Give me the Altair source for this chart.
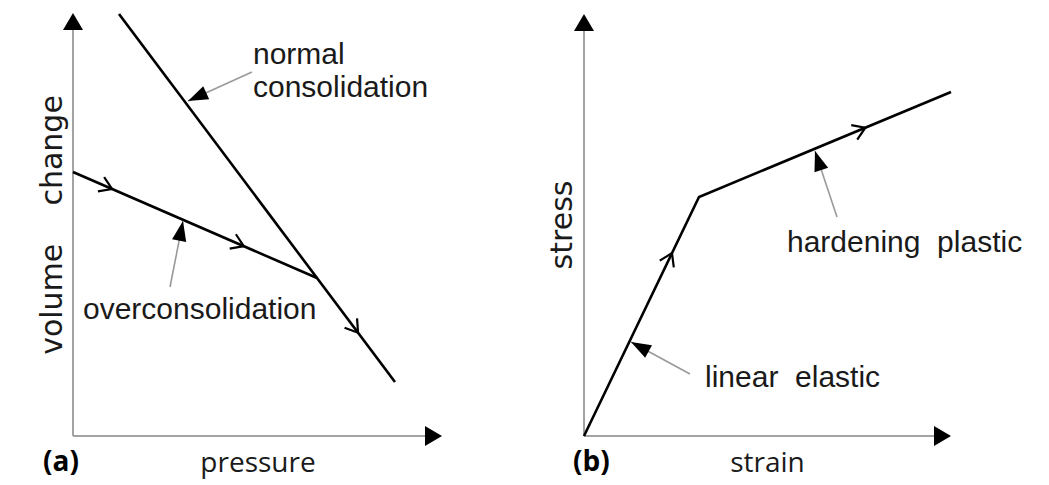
import math
import altair as alt
import pandas as pd

# ---------------- data (schematic units) ----------------
# Panel (a): volume change vs pressure
A_X_DOMAIN = [-65, 457]
A_Y_DOMAIN = [-45, 424]
A_AXIS_TIP_X = 369
A_AXIS_TIP_Y = 423
ncl_x = [46, 322]          # normal consolidation line
ncl_y = [422, 54]
ocl_x = [0, 244]           # overconsolidation line
ocl_y = [264, 158]
a_chevrons = [("ocl", 0.16), ("ocl", 0.70), ("ncl", 0.866)]
a_pointers = [  # leader start (x, y) -> tip (x, y)
    (179, 364, 115, 335),
    (97, 149, 110, 215),
]
a_labels = ["normal", "consolidation", "overconsolidation"]
a_label_x = [180, 180, 10]
a_label_y = [372, 339, 117]

# Panel (b): stress vs strain
B_X_DOMAIN = [-54, 457]
B_Y_DOMAIN = [-45, 424]
B_AXIS_TIP_X = 367
B_AXIS_TIP_Y = 422
curve_x = [0, 115, 367]
curve_y = [0, 239, 344]
b_chevrons = [(0, 0.765), (1, 0.66)]
b_pointers = [
    (106, 62, 47, 94),
    (253, 219, 231, 285),
]
b_labels = ["linear\u00a0\u00a0elastic", "hardening\u00a0\u00a0plastic"]
b_label_x = [121, 203]
b_label_y = [49, 184]

A_YTITLE = "volume\u00a0\u00a0\u00a0\u00a0change"
B_YTITLE = "stress"
A_XTITLE = "pressure"
B_XTITLE = "strain"
A_TAG = "(a)"
B_TAG = "(b)"

W_A, W_B, H = 522, 511, 469

LABEL_FONT = "Liberation Sans, Arial, sans-serif"
SHAPE_TRI = "M0,0L-1.7,-1L-1.7,1Z"
SHAPE_PTR = "M0,0L-2,-0.72L-2,0.72Z"
SHAPE_CHEV = "M-1.2,-0.78L0,0L-1.2,0.78"


def screen_angle(dx, dy):
    return math.degrees(math.atan2(-dy, dx)) % 360


def enc(xdom, ydom):
    return dict(
        x=alt.X("x:Q", scale=alt.Scale(domain=xdom, nice=False, zero=False), axis=None),
        y=alt.Y("y:Q", scale=alt.Scale(domain=ydom, nice=False, zero=False), axis=None),
    )


def panel(xdom, ydom, width, tip_x, tip_y, lines_df, chev_df, pointers,
          labels_df, ytitle, ytitle_x, xtitle, xtitle_x, tag, tag_x):
    e = enc(xdom, ydom)
    axes_df = pd.DataFrame({"x": [0, 0], "y": [0, 0],
                            "x2": [tip_x - 12, 0], "y2": [0, tip_y - 12]})
    axis_rules = alt.Chart(axes_df).mark_rule(color="#a3a3a3", strokeWidth=2).encode(
        **e, x2="x2:Q", y2="y2:Q")
    heads_df = pd.DataFrame({"x": [tip_x, 0], "y": [0, tip_y], "angle": [0, 270]})
    heads = alt.Chart(heads_df).mark_point(
        shape=SHAPE_TRI, filled=True, size=400, color="black", opacity=1
    ).encode(**e, angle=alt.Angle("angle:Q", scale=None))

    lines = alt.Chart(lines_df).mark_line(color="black", strokeWidth=2.6).encode(
        **e, detail="series:N", order="order:Q")
    chev = alt.Chart(chev_df).mark_point(
        shape=SHAPE_CHEV, filled=False, size=400, color="black", strokeWidth=2.2, opacity=1
    ).encode(**e, angle=alt.Angle("angle:Q", scale=None))

    p_df = pd.DataFrame({
        "x": [p[0] for p in pointers], "y": [p[1] for p in pointers],
        "x2": [p[2] for p in pointers], "y2": [p[3] for p in pointers],
    })
    leaders = alt.Chart(p_df).mark_rule(color="#9a9a9a", strokeWidth=1.6).encode(
        **e, x2="x2:Q", y2="y2:Q")
    ptip_df = pd.DataFrame({
        "x": [p[2] for p in pointers], "y": [p[3] for p in pointers],
        "angle": [screen_angle(p[2] - p[0], p[3] - p[1]) for p in pointers],
    })
    ptips = alt.Chart(ptip_df).mark_point(
        shape=SHAPE_PTR, filled=True, size=400, color="black", opacity=1
    ).encode(**e, angle=alt.Angle("angle:Q", scale=None))

    labels = alt.Chart(labels_df).mark_text(
        font=LABEL_FONT, fontSize=30, align="left", baseline="alphabetic", color="#1a1a1a"
    ).encode(**e, text="text:N")

    yt = alt.Chart(pd.DataFrame({"x": [ytitle_x], "y": [211], "text": [ytitle]})).mark_text(
        font="DejaVu Sans", fontSize=30, angle=270, align="center",
        baseline="alphabetic", color="#1a1a1a"
    ).encode(**e, text="text:N")
    xt = alt.Chart(pd.DataFrame({"x": [xtitle_x], "y": [-36], "text": [xtitle]})).mark_text(
        font="Open Sans", fontSize=28, align="center", baseline="alphabetic", color="#1a1a1a"
    ).encode(**e, text="text:N")
    tg = alt.Chart(pd.DataFrame({"x": [tag_x], "y": [-35], "text": [tag]})).mark_text(
        font="Open Sans", fontSize=28, fontWeight="bold", align="left",
        baseline="alphabetic", color="black"
    ).encode(**e, text="text:N")

    return alt.layer(axis_rules, heads, lines, chev, leaders, ptips,
                     labels, yt, xt, tg).properties(width=width, height=H)


def along(xs, ys, i, f):
    x = xs[i] + f * (xs[i + 1] - xs[i])
    y = ys[i] + f * (ys[i + 1] - ys[i])
    return x, y, screen_angle(xs[i + 1] - xs[i], ys[i + 1] - ys[i])


# panel a frames
a_lines = pd.DataFrame({
    "x": ncl_x + ocl_x, "y": ncl_y + ocl_y,
    "series": ["ncl", "ncl", "ocl", "ocl"], "order": [0, 1, 0, 1],
})
rows = []
for s, f in a_chevrons:
    xs, ys = (ncl_x, ncl_y) if s == "ncl" else (ocl_x, ocl_y)
    x, y, ang = along(xs, ys, 0, f)
    rows.append({"x": x, "y": y, "angle": ang})
a_chev = pd.DataFrame(rows)
a_lab = pd.DataFrame({"x": a_label_x, "y": a_label_y, "text": a_labels})

# panel b frames
b_lines = pd.DataFrame({"x": curve_x, "y": curve_y, "series": ["c"] * 3, "order": [0, 1, 2]})
rows = []
for i, f in b_chevrons:
    x, y, ang = along(curve_x, curve_y, i, f)
    rows.append({"x": x, "y": y, "angle": ang})
b_chev = pd.DataFrame(rows)
b_lab = pd.DataFrame({"x": b_label_x, "y": b_label_y, "text": b_labels})

left = panel(A_X_DOMAIN, A_Y_DOMAIN, W_A, A_AXIS_TIP_X, A_AXIS_TIP_Y, a_lines, a_chev,
             a_pointers, a_lab, A_YTITLE, -11.3, A_XTITLE, 185, A_TAG, -30)
right = panel(B_X_DOMAIN, B_Y_DOMAIN, W_B, B_AXIS_TIP_X, B_AXIS_TIP_Y, b_lines, b_chev,
              b_pointers, b_lab, B_YTITLE, -12.3, B_XTITLE, 183.5, B_TAG, -11)

chart = alt.hconcat(left, right, spacing=0, bounds="flush").properties(
    padding=0
).configure_view(stroke=None)

chart.save("out.html", embed_options={"renderer": "svg", "actions": False})
